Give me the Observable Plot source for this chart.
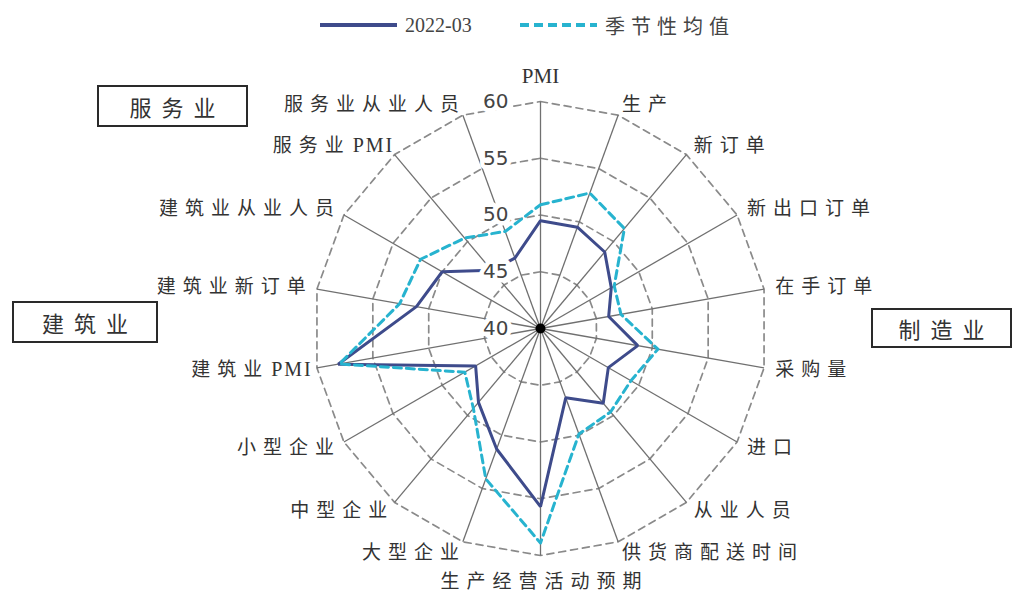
<!DOCTYPE html>
<html>
<head>
<meta charset="utf-8">
<script src="https://cdn.jsdelivr.net/npm/d3@7"></script>
<script src="https://cdn.jsdelivr.net/npm/@observablehq/plot@0.6"></script>
<style>
  body { margin: 0; background: #fff; width: 1016px; height: 599px; overflow: hidden; position: relative;
         font-family: "Liberation Serif", "Noto Sans CJK SC", serif; color: #333; }
  #legend { position: relative; height: 50px; }
  .item { position: absolute; top: 10px; height: 30px; display: flex; align-items: center; font-size: 20px; color: #444; }
  .item svg { margin-right: 8px; }
  .cjk { letter-spacing: 6px; }
  .box { position: absolute; border: 2.5px solid #2a2a2a; box-sizing: border-box; display: flex; align-items: center;
         justify-content: center; font-size: 22px; letter-spacing: 10px; padding-left: 10px; color: #333;
         font-family: "Noto Sans CJK SC", sans-serif; background: #fff; }
  #chart { position: relative; }
</style>
</head>
<body>
<div id="legend"></div>
<div id="chart"></div>
<script>
// Radar axes, clockwise from the top
const categories = [
  "PMI", "生产", "新订单", "新出口订单", "在手订单", "采购量", "进口", "从业人员",
  "供货商配送时间", "生产经营活动预期", "大型企业", "中型企业", "小型企业",
  "建筑业PMI", "建筑业新订单", "建筑业从业人员", "服务业PMI", "服务业从业人员"
];
// Index values for March 2022
const values2022 = [49.5, 49.5, 48.8, 47.2, 46.1, 48.7, 46.9, 48.6, 46.5, 55.7,
                    51.3, 48.5, 46.6, 58.1, 51.1, 50.0, 46.7, 46.6];
// Seasonal average for the same month
const seasonalMean = [50.9, 52.7, 51.5, 47.5, 47.2, 50.5, 49.2, 49.6, 49.9, 58.9,
                      54.1, 49.2, 47.7, 58.0, 52.6, 52.2, 50.4, 49.1];
const ringTicks = [40, 45, 50, 55, 60];
const seriesNames = ["2022-03", "季节性均值"];
const sectors = ["服务业", "建筑业", "制造业"];

const rMin = 40, rMax = 60, labelRadius = 61;
const n = categories.length;
const angle = i => (i * 2 * Math.PI) / n;
const px = (v, i) => (v - rMin) * Math.sin(angle(i));
const py = (v, i) => (v - rMin) * Math.cos(angle(i));

const W = 1016, H = 549;
const k = 11.35;           // pixels per index point
const cx = 540, cy = 278;  // radar centre in the svg

const colors = { dark: "#3e4b8b", cyan: "#27b3cf" };
const labelFont = "Liberation Serif, Noto Sans CJK SC";

// table rows
const rows = (vals, series) => vals.map((value, i) => ({ series, i, value }));
const rowsNow = rows(values2022, seriesNames[0]);
const rowsSeason = rows(seasonalMean, seriesNames[1]);
const ringRows = ringTicks.filter(t => t > rMin).flatMap(t => categories.map((c, i) => ({ t, i })));
const idx = categories.map((c, i) => i);
const rightIdx = idx.filter(i => i > 0 && i < n / 2);
const leftIdx = idx.filter(i => i > n / 2);

const plot = Plot.plot({
  width: W, height: H,
  marginTop: 0, marginRight: 0, marginBottom: 0, marginLeft: 0,
  x: { domain: [-cx / k, (W - cx) / k], range: [0, W], axis: null },
  y: { domain: [-(H - cy) / k, cy / k], range: [H, 0], axis: null },
  marks: [
    // dashed polygon rings
    Plot.line(ringRows, {
      x: d => px(d.t, d.i), y: d => py(d.t, d.i), z: "t", curve: "linear-closed",
      stroke: "#8a8a8a", strokeWidth: 1.7, strokeDasharray: "7,5"
    }),
    // spokes
    Plot.link(idx, {
      x1: i => px(rMin, i), y1: i => py(rMin, i), x2: i => px(rMax, i), y2: i => py(rMax, i),
      stroke: "#707070", strokeWidth: 1.3
    }),
    // series
    Plot.line(rowsNow, {
      x: d => px(d.value, d.i), y: d => py(d.value, d.i), curve: "linear-closed",
      stroke: colors.dark, strokeWidth: 3, strokeLinejoin: "miter"
    }),
    Plot.line(rowsSeason, {
      x: d => px(d.value, d.i), y: d => py(d.value, d.i), curve: "linear-closed",
      stroke: colors.cyan, strokeWidth: 3, strokeDasharray: "8,5"
    }),
    // centre dot
    Plot.dot([rMin], { x: v => px(v, 0), y: v => py(v, 0), r: 5, fill: "#000" }),
    // ring values along the first axis
    Plot.text(ringTicks, {
      x: v => px(v, 0), y: v => py(v, 0), text: d => String(d), textAnchor: "end", dx: -32,
      fontSize: 20, fill: "#444", stroke: "white", strokeWidth: 9, fontFamily: "DejaVu Sans"
    }),
    // axis names
    Plot.text(rightIdx, {
      x: i => px(labelRadius, i), y: i => py(labelRadius, i), text: i => categories[i],
      textAnchor: "start", fontSize: 19, fill: "#333", fontFamily: labelFont
    }),
    Plot.text(leftIdx, {
      x: i => px(labelRadius, i), y: i => py(labelRadius, i), text: i => categories[i],
      textAnchor: "end", dx: 7, fontSize: 19, fill: "#333", fontFamily: labelFont
    }),
    Plot.text([0], {
      x: i => px(labelRadius, i), y: i => py(labelRadius, i), text: i => categories[i],
      textAnchor: "middle", dy: -14, fontSize: 21, fill: "#333", fontFamily: labelFont
    }),
    Plot.text([n / 2], {
      x: i => px(labelRadius, i), y: i => py(labelRadius, i), text: i => categories[i],
      textAnchor: "middle", dx: 4, dy: 15, fontSize: 19, fill: "#333", fontFamily: labelFont
    })
  ]
});

// spaced-out Chinese axis names; Latin suffixes keep a narrower spacing
d3.select(plot).selectAll("text")
  .filter(function () { return /[\u4e00-\u9fff]/.test(this.textContent); })
  .each(function () {
    const m = this.textContent.match(/^([\u4e00-\u9fff]+)(.*)$/);
    const t = d3.select(this);
    if (m && m[2]) {
      t.text(null);
      t.append("tspan").attr("letter-spacing", 7).text(m[1]);
      t.append("tspan").attr("letter-spacing", 2).attr("font-size", 20).attr("dx", 2).text(m[2]);
    } else {
      t.attr("letter-spacing", 7);
    }
  });

document.getElementById("chart").appendChild(plot);

// sector boxes
const boxPos = [
  { left: 97, top: 85, width: 151, height: 42 },
  { left: 12, top: 301, width: 146, height: 42 },
  { left: 871, top: 308, width: 141, height: 40 }
];
sectors.forEach((s, j) => {
  const b = document.createElement("div");
  b.className = "box";
  b.textContent = s;
  Object.assign(b.style, {
    left: boxPos[j].left + "px", top: (boxPos[j].top - 50) + "px",
    width: boxPos[j].width + "px", height: boxPos[j].height + "px"
  });
  document.getElementById("chart").appendChild(b);
});

// legend
const legend = document.getElementById("legend");
const swatch = (color, dash) =>
  `<svg width="77" height="8"><line x1="0" y1="4" x2="77" y2="4" stroke="${color}" stroke-width="4"${dash ? ` stroke-dasharray="${dash}"` : ""}/></svg>`;
const legendItems = [
  { name: seriesNames[0], color: colors.dark, dash: null, left: 320, cls: "" },
  { name: seriesNames[1], color: colors.cyan, dash: "9,5", left: 520, cls: "cjk" }
];
legendItems.forEach(it => {
  const el = document.createElement("div");
  el.className = "item";
  el.style.left = it.left + "px";
  el.innerHTML = swatch(it.color, it.dash) + `<span class="${it.cls}">${it.name}</span>`;
  legend.appendChild(el);
});
</script>
</body>
</html>
